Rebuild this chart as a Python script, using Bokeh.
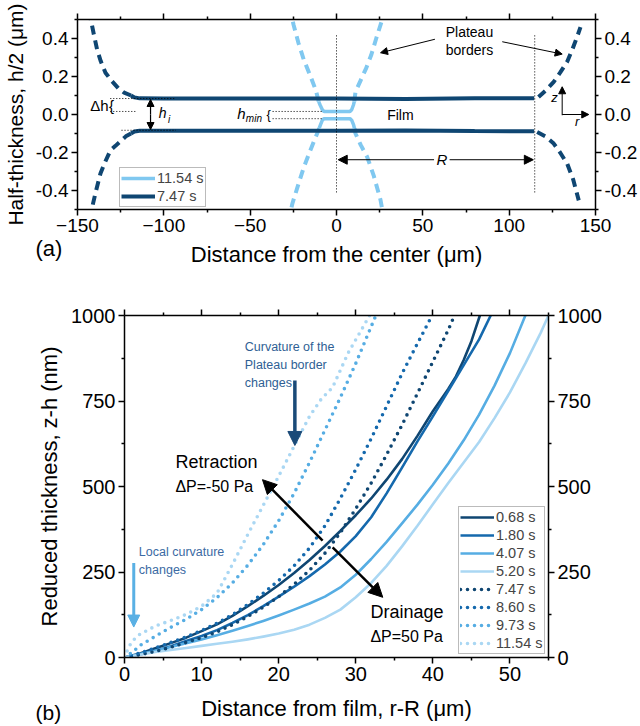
from bokeh.plotting import figure
from bokeh.models import (LinearAxis, FixedTicker, NumeralTickFormatter, CustomJSTickFormatter,
                          Label, Arrow, NormalHead, Legend, LegendItem, Range1d)
from bokeh.embed import file_html
from bokeh.resources import INLINE

FONT = "Liberation Sans"

# ---------------- Panel (a) data: half-thickness profiles ----------------
a_x_ticks = [-150, -100, -50, 0, 50, 100, 150]
a_y_ticks = [-0.4, -0.2, 0.0, 0.2, 0.4]

# 7.47 s (film + Plateau borders)
f747_up_x = [-119, -117, -114, -100, -60, 0, 40, 80, 114.5]
f747_up_y = [0.100, 0.090, 0.085, 0.084, 0.084, 0.084, 0.082, 0.085, 0.085]
f747_lo_x = [-119, -117, -114, -100, -60, 0, 40, 80, 114.5]
f747_lo_y = [-0.100, -0.090, -0.086, -0.086, -0.086, -0.086, -0.084, -0.087, -0.088]
pb747_ul_x = [-119, -123, -126, -130.5, -133.8, -136.5, -138.6, -140.5, -142.3]
pb747_ul_y = [0.100, 0.115, 0.135, 0.18, 0.22, 0.28, 0.34, 0.42, 0.50]
pb747_ll_x = [-119, -122, -125, -128, -130.9, -134, -136.7, -139.5, -141.8]
pb747_ll_y = [-0.100, -0.115, -0.14, -0.165, -0.188, -0.25, -0.31, -0.41, -0.50]
pb747_ur_x = [117, 121, 125.8, 129.5, 133.6, 136.5, 139.4, 141.3]
pb747_ur_y = [0.092, 0.125, 0.172, 0.22, 0.278, 0.34, 0.41, 0.46]
pb747_lr_x = [116.2, 121, 125.8, 129.5, 133.6, 137, 140.3]
pb747_lr_y = [-0.092, -0.115, -0.153, -0.20, -0.259, -0.34, -0.452]

# 11.54 s (dimpled film + Plateau borders)
f1154_up_x = [-10.3, -9.5, -8.2, -7.2, 7.8, 8.8, 9.8, 10.3]
f1154_up_y = [0.068, 0.05, 0.025, 0.016, 0.016, 0.025, 0.05, 0.068]
f1154_lo_x = [-10.0, -9.3, -8.2, -7.2, 7.8, 8.8, 9.9, 10.4]
f1154_lo_y = [-0.072, -0.055, -0.03, -0.022, -0.022, -0.03, -0.055, -0.072]
pb1154_ul_x = [-10.3, -12.0, -15.0, -18.9, -22.0, -24.8, -25.6]
pb1154_ul_y = [0.068, 0.128, 0.20, 0.287, 0.375, 0.47, 0.50]
pb1154_ur_x = [10.3, 11.0, 14.0, 17.0, 20.0, 23.0, 26.5]
pb1154_ur_y = [0.068, 0.12, 0.18, 0.24, 0.31, 0.40, 0.50]
pb1154_ll_x = [-10.0, -11.2, -15.0, -18.9, -22.5, -25.6, -26.3]
pb1154_ll_y = [-0.072, -0.10, -0.185, -0.277, -0.38, -0.47, -0.50]
pb1154_lr_x = [10.4, 11.0, 14.0, 17.8, 21.5, 25.5, 26.5]
pb1154_lr_y = [-0.072, -0.10, -0.16, -0.224, -0.32, -0.45, -0.50]

# ---------------- Panel (b) data: reduced thickness ----------------
b_x_ticks = [0, 10, 20, 30, 40, 50]
b_y_ticks = [0, 250, 500, 750, 1000]

t068_x = [0, 2, 4, 6, 8, 10, 12, 14, 16, 18, 20, 22, 24, 26, 28, 30, 32, 34, 36, 38, 40,
          42, 43, 44, 45, 46.1]
t068_y = [0, 12, 27, 42, 58, 77, 97, 122, 150, 180, 212, 247, 285, 326, 370, 416, 465, 520,
          580, 648, 720, 785, 822, 870, 925, 1000]
t180_x = [0, 2, 4, 6, 8, 10, 12, 14, 16, 18, 20, 22, 24, 26, 28, 30, 32, 34, 36, 38, 40,
          42, 44, 46, 47.5]
t180_y = [0, 9, 20, 33, 48, 63, 80, 101, 124, 150, 178, 207, 238, 272, 310, 355, 410, 480,
          555, 632, 705, 780, 855, 930, 1000]
t407_x = [0, 2, 4, 6, 8, 10, 12, 14, 16, 18, 20, 22, 24, 26, 28, 30, 32, 34, 36, 38, 40,
          42, 44, 46, 48, 50, 52]
t407_y = [0, 10, 20, 31, 42, 53, 65, 78, 92, 107, 123, 140, 158, 178, 205, 242, 288, 338,
          392, 447, 505, 567, 635, 710, 795, 890, 1000]
t520_x = [0, 2, 4, 6, 8, 10, 12, 14, 16, 18, 20, 22, 24, 26, 28, 30, 32, 34, 36, 38, 40,
          42, 44, 46, 48, 50, 52, 54, 55]
t520_y = [0, 8, 16, 22, 28, 34, 40, 46, 53, 61, 70, 81, 96, 116, 140, 176, 218, 268, 325,
          385, 448, 510, 570, 630, 700, 775, 860, 950, 1000]
t747_x = [0, 2, 4, 6, 8, 10, 12, 14, 16, 18, 20, 22, 24, 26, 28, 30, 32, 34, 36, 38, 40,
          42, 42.8]
t747_y = [0, 8, 18, 30, 44, 58, 75, 96, 120, 147, 178, 214, 255, 305, 365, 435, 510, 593,
          680, 772, 865, 958, 1000]
t860_x = [0, 2, 4, 6, 8, 10, 12, 14, 16, 18, 20, 22, 24, 26, 28, 30, 32, 34, 36, 38, 39.9]
t860_y = [0, 13, 28, 44, 60, 79, 100, 125, 155, 188, 225, 268, 320, 385, 465, 550, 640,
          735, 830, 918, 1000]
t973_x = [0, 1, 2, 4, 6, 8, 10, 12, 14, 16, 18, 20, 22, 24, 26, 28, 30, 32.6]
t973_y = [0, 15, 35, 62, 88, 112, 140, 175, 218, 270, 330, 400, 480, 570, 665, 760, 860,
          1000]
t1154_x = [0, 0.5, 1, 2, 4, 6, 8, 10, 12, 14, 16, 18, 20, 22, 24, 25.5, 27, 29, 31.8]
t1154_y = [0, 28, 48, 68, 92, 108, 126, 150, 188, 272, 360, 445, 530, 618, 705, 755, 790,
           890, 1000]

C_DARK = "#0f4672"
C_MED = "#1569ad"
C_LIGHT = "#56ade3"
C_PALE = "#aad7f3"
C_TOPLIGHT = "#80c8f0"


def style_axis(ax, tick_size, label_size):
    ax.axis_line_color = "black"
    ax.axis_line_width = 1.5
    ax.major_tick_line_color = "black"
    ax.minor_tick_line_color = "black"
    ax.major_tick_line_width = 1.5
    ax.minor_tick_line_width = 1.5
    ax.major_tick_out = 6
    ax.major_tick_in = 0
    ax.minor_tick_out = 3
    ax.minor_tick_in = 0
    ax.major_label_text_font = FONT
    ax.major_label_text_font_size = tick_size
    ax.major_label_text_color = "black"
    ax.major_label_standoff = 3
    ax.axis_label_text_font = FONT
    ax.axis_label_text_font_size = label_size
    ax.axis_label_text_font_style = "normal"
    ax.axis_label_text_color = "black"


def mk_label(x, y, text, size, color="black", style="normal", align="left", baseline="middle",
             units="data"):
    return Label(x=x, y=y, text=text, text_font=FONT, text_font_size=f"{size}px",
                 text_color=color, text_font_style=style, text_align=align,
                 text_baseline=baseline, x_units=units, y_units=units)


def lab(p, *args, **kw):
    p.add_layout(mk_label(*args, **kw))


def arrow(p, x0, y0, x1, y1, color="black", width=1.0, size=8):
    head = NormalHead(size=size, fill_color=color, line_color=color, line_width=1)
    p.add_layout(Arrow(end=head, x_start=x0, y_start=y0, x_end=x1, y_end=y1,
                       line_color=color, line_width=width))


def top_axis(p, ticker):
    ax = LinearAxis(ticker=ticker, formatter=CustomJSTickFormatter(code="return ''"))
    style_axis(ax, "1px", "1px")
    ax.major_label_standoff = 0
    p.add_layout(ax, "above")


# ======================= Panel (a) =======================
pa = figure(width=640, height=299, x_range=Range1d(-150, 150), y_range=Range1d(-0.5, 0.5),
            output_backend="svg", toolbar_location=None,
            min_border_left=77, min_border_right=45, min_border_top=19, min_border_bottom=90)
pa.grid.visible = False
pa.outline_line_color = None

xt_a = FixedTicker(ticks=a_x_ticks, minor_ticks=[-125, -75, -25, 25, 75, 125])
yt_a = FixedTicker(ticks=a_y_ticks, minor_ticks=[-0.5, -0.3, -0.1, 0.1, 0.3, 0.5])
pa.xaxis.ticker = xt_a
pa.yaxis.ticker = yt_a
pa.yaxis.formatter = NumeralTickFormatter(format="0.0")
pa.xaxis.axis_label = "Distance from the center (μm)"
pa.yaxis.axis_label = "Half-thickness, h/2 (μm)"
style_axis(pa.xaxis[0], "19px", "22px")
style_axis(pa.yaxis[0], "19px", "21px")
pa.xaxis.axis_label_standoff = 7
pa.yaxis.axis_label_standoff = 6

ra = LinearAxis(ticker=yt_a, formatter=NumeralTickFormatter(format="0.0"))
style_axis(ra, "19px", "21px")
pa.add_layout(ra, "right")
top_axis(pa, xt_a)

# dashed Plateau borders
for xs, ys in [(pb747_ul_x, pb747_ul_y), (pb747_ll_x, pb747_ll_y),
               (pb747_ur_x, pb747_ur_y), (pb747_lr_x, pb747_lr_y)]:
    pa.line(xs, ys, line_color=C_DARK, line_width=4, line_dash="9 6")
for xs, ys in [(pb1154_ul_x, pb1154_ul_y), (pb1154_ll_x, pb1154_ll_y),
               (pb1154_ur_x, pb1154_ur_y), (pb1154_lr_x, pb1154_lr_y)]:
    pa.line(xs, ys, line_color=C_TOPLIGHT, line_width=4, line_dash="9 6")

# films
r747 = pa.line(f747_up_x, f747_up_y, line_color=C_DARK, line_width=4)
pa.line(f747_lo_x, f747_lo_y, line_color=C_DARK, line_width=4)
r1154 = pa.line(f1154_up_x, f1154_up_y, line_color=C_TOPLIGHT, line_width=3.5)
pa.line(f1154_lo_x, f1154_lo_y, line_color=C_TOPLIGHT, line_width=3.5)

# dotted guide lines
pa.segment(x0=[0, 114.8, -131, -131, -124.5, -37, -37],
           y0=[-0.41, -0.41, 0.084, 0.016, -0.083, 0.016, -0.022],
           x1=[0, 114.8, -94, -116, -93, -8, -8],
           y1=[0.425, 0.425, 0.084, 0.016, -0.083, 0.016, -0.022],
           line_color="black", line_width=1, line_dash="1 2")

# annotations (a)
lab(pa, 77, 0.433, "Plateau", 14, align="center")
lab(pa, 77, 0.339, "borders", 14, align="center")
arrow(pa, 57, 0.396, 25.5, 0.325, width=1, size=7)
arrow(pa, 96, 0.383, 130.7, 0.318, width=1, size=7)
lab(pa, 37, 0.0, "Film", 14, align="center")
arrow(pa, 56.5, -0.238, 1.0, -0.238, width=1, size=9)
arrow(pa, 65.5, -0.238, 114.0, -0.238, width=1, size=9)
lab(pa, 61, -0.238, "R", 15, style="italic", align="center")
arrow(pa, -107.7, 0.0, -107.7, 0.079, width=1.2, size=7)
arrow(pa, -107.7, 0.0, -107.7, -0.079, width=1.2, size=7)
lab(pa, -103.0, 0.007, "h", 14, style="italic")
lab(pa, -97.6, -0.024, "i", 10, style="italic")
lab(pa, -142.6, 0.049, "Δh", 15)
lab(pa, -131.8, 0.049, "{", 15)
lab(pa, -57.5, 0.005, "h", 15, style="italic")
lab(pa, -52.5, -0.02, "min", 10, style="italic")
lab(pa, -40.6, -0.002, "{", 13)
arrow(pa, 130.7, -0.004, 130.7, 0.146, width=1, size=7)
arrow(pa, 130.7, 0.0, 146.1, 0.0, width=1, size=7)
lab(pa, 126.2, 0.088, "z", 13, style="italic", align="center")
lab(pa, 139.4, -0.039, "r", 13, style="italic", align="center")
pa.add_layout(mk_label(-42, 46, "(a)", 22, units="screen"), "below")

leg_a = Legend(items=[LegendItem(label="11.54 s", renderers=[r1154]),
                      LegendItem(label="7.47 s", renderers=[r747])],
               location=(42, 2), orientation="vertical")
leg_a.label_text_font = FONT
leg_a.label_text_font_size = "14.5px"
leg_a.glyph_width = 34
leg_a.glyph_height = 18
leg_a.label_height = 18
leg_a.label_standoff = 2
leg_a.spacing = 0
leg_a.padding = 1
leg_a.margin = 0
leg_a.border_line_color = "#777777"
leg_a.border_line_width = 1
pa.add_layout(leg_a)

# ======================= Panel (b) =======================
pb = figure(width=640, height=427, x_range=Range1d(0, 55), y_range=Range1d(0, 1000),
            output_backend="svg", toolbar_location=None,
            min_border_left=124, min_border_right=92, min_border_top=16, min_border_bottom=69)
pb.grid.visible = False
pb.outline_line_color = None

xt_b = FixedTicker(ticks=b_x_ticks, minor_ticks=[5, 15, 25, 35, 45, 55])
yt_b = FixedTicker(ticks=b_y_ticks, minor_ticks=[125, 375, 625, 875])
pb.xaxis.ticker = xt_b
pb.yaxis.ticker = yt_b
pb.xaxis.axis_label = "Distance from film, r-R (μm)"
pb.yaxis.axis_label = "Reduced thickness, z-h (nm)"
style_axis(pb.xaxis[0], "20px", "22px")
style_axis(pb.yaxis[0], "20px", "22px")
pb.xaxis.axis_label_standoff = 12
pb.yaxis.axis_label_standoff = 6

rb = LinearAxis(ticker=yt_b)
style_axis(rb, "20px", "22px")
pb.add_layout(rb, "right")
top_axis(pb, xt_b)

series = [
    ("0.68 s", t068_x, t068_y, C_DARK, None),
    ("1.80 s", t180_x, t180_y, C_MED, None),
    ("4.07 s", t407_x, t407_y, C_LIGHT, None),
    ("5.20 s", t520_x, t520_y, C_PALE, None),
    ("7.47 s", t747_x, t747_y, C_DARK, "0 7"),
    ("8.60 s", t860_x, t860_y, C_MED, "0 7"),
    ("9.73 s", t973_x, t973_y, C_LIGHT, "0 7"),
    ("11.54 s", t1154_x, t1154_y, C_PALE, "0 7"),
]
items = []
for name, xs, ys, col, dash in series:
    if dash is None:
        r = pb.line(xs, ys, line_color=col, line_width=2.6, line_join="round")
    else:
        r = pb.line(xs, ys, line_color=col, line_width=3.6, line_dash=dash, line_cap="round")
    items.append(LegendItem(label=name, renderers=[r]))

leg_b = Legend(items=items, location=(334, 3), orientation="vertical")
leg_b.label_text_font = FONT
leg_b.label_text_font_size = "14.5px"
leg_b.glyph_width = 34
leg_b.glyph_height = 18
leg_b.label_height = 18
leg_b.label_standoff = 2
leg_b.spacing = 0
leg_b.padding = 1
leg_b.margin = 0
leg_b.border_line_color = "#777777"
leg_b.border_line_width = 1
pb.add_layout(leg_b)

# annotations (b)
C_NOTE = "#2f5f94"
lab(pb, 15.6, 907, "Curvature of the", 12.5, color=C_NOTE)
lab(pb, 15.6, 855, "Plateau border", 12.5, color=C_NOTE)
lab(pb, 15.6, 802, "changes", 12.5, color=C_NOTE)
arrow(pb, 22.1, 810, 22.1, 620, color="#1a4a78", width=3.5, size=14)
lab(pb, 1.86, 308, "Local curvature", 12.5, color="#3b6aa3")
lab(pb, 1.86, 256, "changes", 12.5, color="#3b6aa3")
arrow(pb, 1.2, 276, 1.2, 89, color="#5ab0e4", width=3, size=12)
lab(pb, 6.6, 571, "Retraction", 18)
lab(pb, 6.6, 501, "ΔP=-50 Pa", 16)
arrow(pb, 25.7, 342, 17.9, 520, width=2.5, size=14)
arrow(pb, 27.0, 322, 33.5, 176, width=2.5, size=14)
lab(pb, 31.9, 132, "Drainage", 18)
lab(pb, 31.9, 61, "ΔP=50 Pa", 16)
pb.add_layout(mk_label(27, -55, "(b)", 21, units="screen"), "left")

open("out.html", "w").write(file_html([pa, pb], INLINE))
